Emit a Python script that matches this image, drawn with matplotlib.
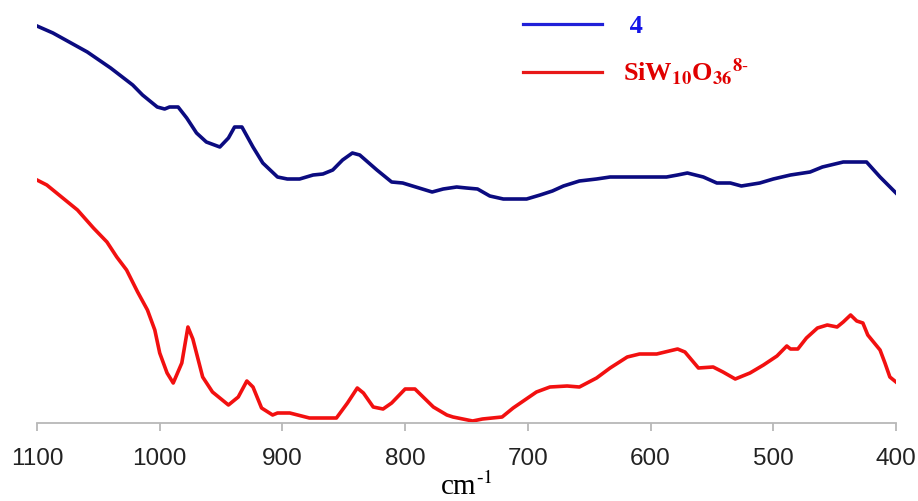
import matplotlib
matplotlib.use("Agg")
import matplotlib.pyplot as plt
from matplotlib.lines import Line2D

# - data (wavenumber in cm-1, transmittance in arbitrary units)
wn_4 = [1100, 1087, 1059, 1040, 1022, 1014, 1002, 996, 992, 985, 978, 970, 962, 951, 944,
        939, 933, 924, 916, 904, 896, 886, 875, 867, 859, 851, 843, 837, 823, 811,
        802, 794, 778, 769, 758, 750, 741, 731, 720, 701, 690, 680, 671, 658, 644,
        633, 587, 578, 570, 557, 546, 535, 526, 511, 500, 486, 470, 460, 443, 424, 413, 400]
t_4 = [397, 390, 371, 355, 338, 328, 316, 314, 316, 316, 305, 290, 281, 276, 285,
       296, 296, 276, 260, 246, 244, 244, 248, 249, 253, 263, 270, 268, 253, 241,
       240, 237, 231, 234, 236, 235, 234, 227, 224, 224, 228, 232, 237, 242, 244,
       246, 246, 248, 250, 246, 240, 240, 237, 240, 244, 248, 251, 256, 261, 261, 246, 230]

wn_siw = [1100, 1092, 1080, 1067, 1054, 1043, 1035, 1027, 1018, 1010, 1004, 1000, 994, 989, 982,
          977, 973, 965, 957, 944, 936, 929, 924, 917, 908, 904, 894, 878, 856, 847,
          839, 834, 826, 818, 811, 800, 792, 777, 766, 761, 745, 737, 721, 712, 693,
          682, 668, 658, 644, 633, 619, 609, 595, 578, 572, 561, 549, 541, 531, 519,
          508, 497, 489, 486, 480, 473, 464, 456, 448, 443, 437, 432, 427, 423, 413,
          409, 405, 400]
t_siw = [243, 238, 226, 213, 195, 181, 166, 153, 131, 113, 93, 70, 50, 40, 60,
         96, 84, 46, 31, 18, 26, 42, 36, 15, 8, 10, 10, 5, 5, 20,
         35, 30, 16, 14, 20, 34, 34, 16, 8, 6, 2, 4, 6, 15, 31,
         36, 37, 36, 45, 55, 66, 69, 69, 74, 71, 55, 56, 51, 44, 50,
         58, 67, 77, 74, 74, 85, 95, 98, 96, 101, 108, 102, 100, 88, 73,
         60, 46, 41]

xticks = [1100, 1000, 900, 800, 700, 600, 500, 400]
labels = [" 4", "SiW$_{\\mathbf{10}}$O$_{\\mathbf{36}}$$^{\\mathbf{8}\u2010}$"]

plt.rcParams["mathtext.fontset"] = "stix"

# - plot
fig = plt.figure(figsize=(9.18, 5.01), dpi=100)
ax = fig.add_axes([37/918, 1 - 423/501, (896 - 37)/918, 423/501])
ax.plot(wn_4, t_4, color="#0b0b80", linewidth=2.6, solid_joinstyle="round")
ax.plot(wn_siw, t_siw, color="#f21010", linewidth=2.6, solid_joinstyle="round")
ax.set_xlim(1100, 400)
ax.set_ylim(0, 423)

for s in ["top", "right", "left"]:
    ax.spines[s].set_visible(False)
ax.spines["bottom"].set_color("#b8b8b8")
ax.spines["bottom"].set_linewidth(1.3)
ax.set_yticks([])
ax.set_xticks(xticks)
ax.set_xticklabels([str(t) for t in xticks], fontfamily="Liberation Sans", fontsize=17.5, color="#222222")
ax.tick_params(axis="x", direction="out", length=6, width=1.3, color="#b8b8b8", pad=12)
ax.set_xlabel("cm$^{\u2010\\mathrm{1}}$", fontfamily="Liberation Serif", fontsize=21, labelpad=2)

handles = [Line2D([], [], color="#2020d8", linewidth=2.3),
           Line2D([], [], color="#e81818", linewidth=2.3)]
leg = ax.legend(handles, labels, loc="upper left", bbox_to_anchor=(0.566, 0.965),
                frameon=False, borderpad=0, borderaxespad=0, handlelength=3.0,
                handletextpad=0.8, labelspacing=0.7,
                prop={"family": "Liberation Serif", "weight": "bold", "size": 19})
for txt, c in zip(leg.get_texts(), ["#1515e8", "#e00000"]):
    txt.set_color(c)

plt.savefig("out.png", dpi=100)
